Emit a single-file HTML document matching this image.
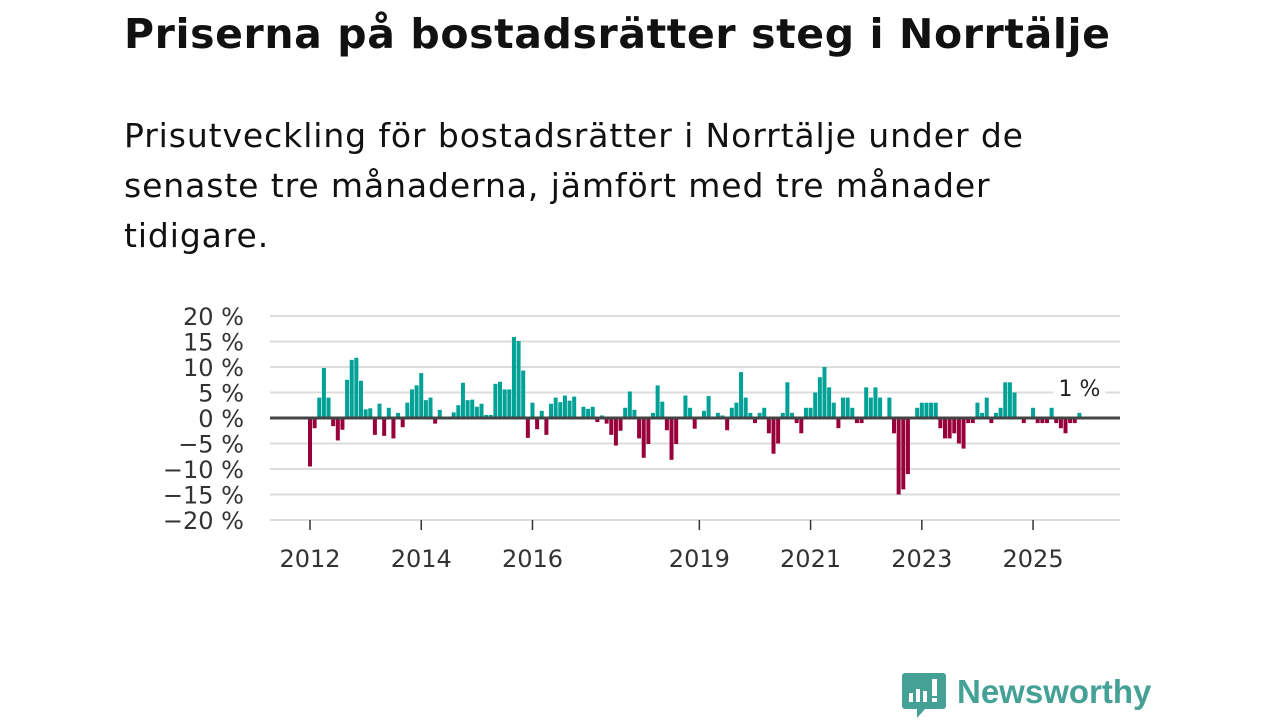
<!DOCTYPE html>
<html><head><meta charset="utf-8"><style>
body{margin:0;width:1280px;height:720px;background:#fff;overflow:hidden;font-family:"DejaVu Sans",sans-serif;position:relative}
#title{position:absolute;left:124px;top:6px;font-size:41px;line-height:56px;font-weight:bold;color:#111;margin:0;white-space:nowrap;letter-spacing:0.6px}
#sub{position:absolute;left:124px;top:111px;font-size:33px;line-height:50px;color:#111;margin:0;white-space:nowrap;letter-spacing:0.9px}
svg{position:absolute;left:0;top:0}
</style></head><body>
<h1 id="title">Priserna på bostadsrätter steg i Norrtälje</h1>
<p id="sub">Prisutveckling för bostadsrätter i Norrtälje under de<br>senaste tre månaderna, jämfört med tre månader<br>tidigare.</p>
<svg id="chart" width="1280" height="720"></svg>
<svg width="1280" height="720">
<path d="M905 673 h38 a3 3 0 0 1 3 3 v30 a3 3 0 0 1 -3 3 h-18 l-8 9 v-9 h-12 a3 3 0 0 1 -3 -3 v-30 a3 3 0 0 1 3 -3z" fill="#45a096"/>
<rect x="909" y="693" width="4" height="9" fill="#fff"/><rect x="916" y="689" width="4" height="13" fill="#fff"/><rect x="923" y="691" width="4" height="11" fill="#fff"/><rect x="932" y="679" width="5" height="17" fill="#fff"/><rect x="932" y="698" width="5" height="4" fill="#fff"/>
<text x="957" y="703" font-family="Liberation Sans, sans-serif" font-size="33" font-weight="bold" fill="#45a096">Newsworthy</text>
</svg>
<script>
const values=[-9.5,-2,4,9.8,4,-1.6,-4.4,-2.3,7.5,11.4,11.8,7.3,1.7,1.9,-3.3,2.8,-3.5,2,-4,1,-1.8,3,5.6,6.4,8.8,3.5,4,-1.1,1.6,0,0,1.1,2.5,6.9,3.5,3.6,2.2,2.8,0.6,0.6,6.7,7.1,5.6,5.6,15.9,15.1,9.3,-3.9,3,-2.2,1.4,-3.3,2.8,4,3.1,4.4,3.4,4.2,0,2.2,1.8,2.2,-0.8,0.5,-1.1,-3.3,-5.4,-2.5,2,5.2,1.6,-4,-7.8,-5.1,1,6.4,3.2,-2.4,-8.2,-5.1,0,4.4,2,-2.1,0,1.4,4.3,0,1,0.5,-2.4,2,3,9,4,1,-1,1,2,-3,-7,-5,1,7,1,-1,-3,2,2,5,8,10,6,3,-2,4,4,2,-1,-1,6,4,6,4,0,4,-3,-15,-14,-11,0,2,3,3,3,3,-2,-4,-4,-3,-5,-6,-1,-1,3,1,4,-1,1,2,7,7,5,0,-1,0,2,-1,-1,-1,2,-1,-2,-3,-1,-1,1];
const yTicks=[20,15,10,5,0,-5,-10,-15,-20];
const yearTicks=[2012,2014,2016,2019,2021,2023,2025];
const startYear=2012;
const lastLabel="1 %";
const NS="http://www.w3.org/2000/svg";
const svg=document.getElementById('chart');
const x0=310,monthW=4.635,zeroY=418,pxPer=5.1,left=270,right=1120;
const xPos=m=>x0+m*monthW;
const yPos=v=>zeroY-v*pxPer;
function el(t,a){const e=document.createElementNS(NS,t);for(const k in a)e.setAttribute(k,a[k]);svg.appendChild(e);return e;}
yTicks.forEach(v=>{
 const g=el('line',{x1:left,x2:right,y1:yPos(v),y2:yPos(v),stroke:'#dcdcdc','stroke-width':2});
 
 
 const t=el('text',{x:244,y:yPos(v)+9,'text-anchor':'end','font-size':24,fill:'#333','font-family':'DejaVu Sans, sans-serif'});
 t.textContent=(v<0?'\u2212'+(-v):v)+' %';
 
 
});
values.forEach((v,i)=>{
 const x=xPos(i)-2;const y=v>=0?yPos(v):zeroY;const h=Math.abs(v)*pxPer;
 const r=el('rect',{x:x,y:y,width:4,height:h,fill:v>=0?'#00a297':'#98003a'});
 
 
});
const z=el('line',{x1:left,x2:right,y1:zeroY,y2:zeroY,stroke:'#444','stroke-width':3});


yearTicks.forEach(yr=>{
 const x=xPos((yr-startYear)*12);
 const tk=el('line',{x1:x,x2:x,y1:520,y2:530,stroke:'#333','stroke-width':1.5});
 
 
 const t=el('text',{x:x,y:567,'text-anchor':'middle','font-size':24,fill:'#333','font-family':'DejaVu Sans, sans-serif'});
 t.textContent=yr;
 
 
});
const lx=xPos(values.length-1);
const lb=el('rect',{x:lx-26,y:373,width:52,height:28,fill:'#fff'});


const l=el('text',{x:lx,y:396,'text-anchor':'middle','font-size':22,fill:'#222','font-family':'DejaVu Sans, sans-serif'});
l.textContent=lastLabel;


</script>
</body></html>
